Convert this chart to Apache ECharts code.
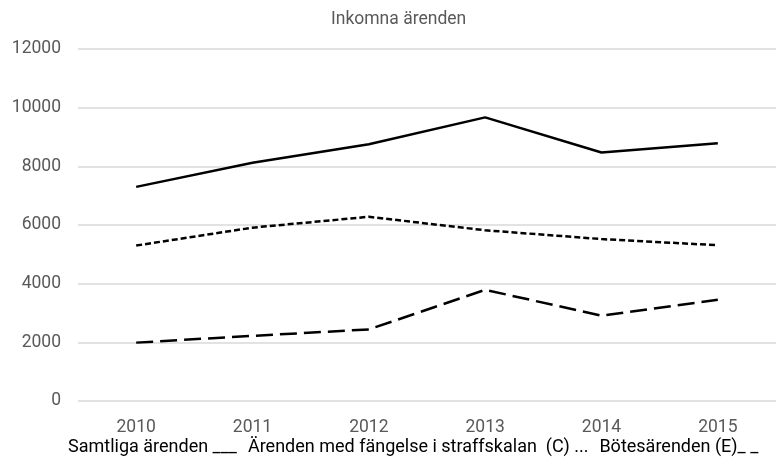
<!DOCTYPE html>
<html>
<head>
<meta charset="utf-8">
<script src="https://cdn.jsdelivr.net/npm/echarts@6/dist/echarts.min.js"></script>
<style>
  html, body { margin: 0; padding: 0; background: #fff; }
  #chart { width: 776px; height: 469px; }
</style>
</head>
<body>
<div id="chart"></div>
<script>
// data
var years = ['2010', '2011', '2012', '2013', '2014', '2015'];
var samtliga = [7300, 8120, 8750, 9670, 8470, 8790];
var fangelse = [5300, 5910, 6280, 5820, 5520, 5310];
var botes = [1990, 2220, 2440, 3790, 2910, 3450];

var names = [
  'Samtliga ärenden ___',
  'Ärenden med fängelse i straffskalan  (C) ...',
  'Bötesärenden (E)_ _'
];

var grey = '#595959';
var font = 'Roboto, "Noto Sans", sans-serif';

var myChart = echarts.init(document.getElementById('chart'));

function lineSeries(name, data, type) {
  return {
    name: name,
    type: 'line',
    data: data,
    symbol: 'none',
    lineStyle: { color: '#000', width: 2.5, type: type, cap: 'butt' },
    itemStyle: { color: '#000' }
  };
}

var option = {
  animation: false,
  title: {
    text: 'Inkomna ärenden',
    left: 326,
    top: 6,
    textStyle: { color: grey, fontSize: 17.5, fontWeight: 'normal', fontFamily: font }
  },
  legend: {
    bottom: 8,
    left: 58,
    icon: 'none',
    itemWidth: 0,
    itemGap: 6,
    textStyle: { color: '#000', fontSize: 18, fontFamily: font },
    data: names
  },
  grid: { left: 78, right: -9, top: 49, bottom: 68, containLabel: false },
  xAxis: {
    type: 'category',
    data: years,
    boundaryGap: true,
    axisLine: { show: false },
    axisTick: { show: false },
    axisLabel: { color: grey, fontSize: 17.5, fontFamily: font, margin: 18 }
  },
  yAxis: {
    type: 'value',
    min: 0,
    max: 12000,
    interval: 2000,
    axisLine: { show: false },
    axisTick: { show: false },
    axisLabel: {
      color: grey, fontSize: 17.5, fontFamily: font, margin: 17,
      formatter: function (v) { return String(v); }
    },
    splitLine: { lineStyle: { color: '#d9d9d9', width: 1.5 } }
  },
  series: [
    lineSeries(names[0], samtliga, 'solid'),
    lineSeries(names[1], fangelse, [6, 3]),
    lineSeries(names[2], botes, [17, 7])
  ]
};

myChart.setOption(option);
</script>
</body>
</html>
